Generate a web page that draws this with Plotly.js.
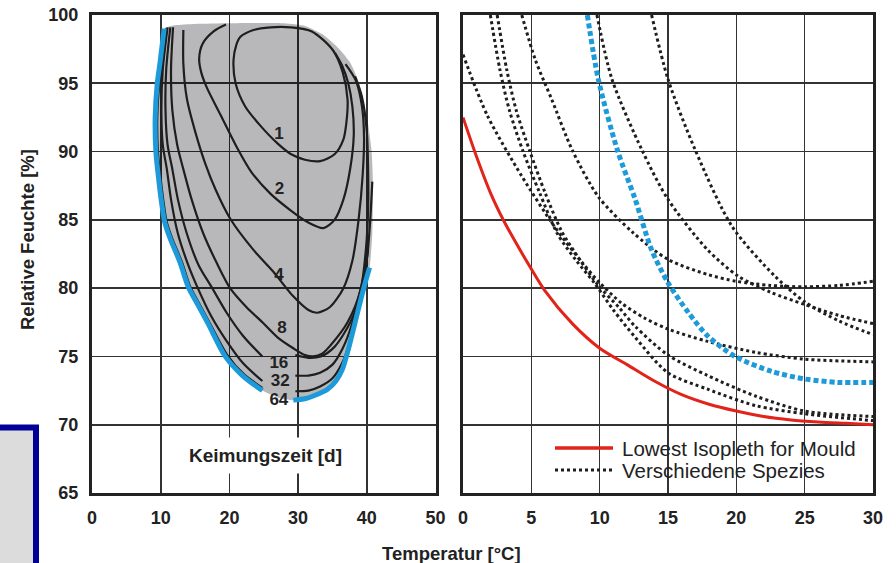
<!DOCTYPE html>
<html><head><meta charset="utf-8">
<script src="https://cdn.plot.ly/plotly-3.0.1.min.js"></script>
<style>html,body{margin:0;padding:0;background:#fff}#chart{width:896px;height:563px}</style>
</head><body><div id="chart"></div>
<script>
// ---------- Left panel: germination isopleths (Keimungszeit in days) ----------
const isoLabels = ['1','2','4','8','16','32','64'];
const labelT  = [27.2, 27.3, 27.2, 27.65, 27.2, 27.4, 27.2];
const labelRH = [91.2, 87.2, 80.9, 77.0, 74.5, 73.15, 71.75];

const iso1T  = [28.9,32.0,35.1,36.5,37.2,37.0,36.6,35.3,33.2,31.0,29.0,27.0,24.5,22.3,20.9,20.6,21.0,21.6,23.5,26.0,28.9];
const iso1RH = [99.1,98.8,97.4,95.8,93.8,92.0,90.9,89.8,89.3,89.4,89.8,90.6,91.9,93.3,95.0,96.7,97.8,98.4,98.9,99.1,99.1];

const iso2T  = [19.5,17.7,16.1,15.6,15.9,16.7,18.7,21.1,23.2,26.0,28.9,31.5,33.7,35.3,36.6,37.6,38.1,37.9,37.3,36.4,35.4];
const iso2RH = [99.3,98.8,97.9,96.8,95.8,94.7,92.7,90.3,88.5,86.9,85.7,84.8,84.4,85.0,86.5,88.8,91.2,93.3,95.0,96.3,97.2];

const iso4T  = [13.3,13.3,13.8,15.0,16.5,18.0,20.1,23.5,26.4,29.3,31.5,32.8,34.6,36.6,37.9,38.8,39.4,39.6,39.3,38.4,36.9];
const iso4RH = [98.9,96.4,93.9,91.5,89.1,87.2,85.1,82.8,81.2,79.4,78.4,78.2,78.6,80.0,82.0,85.0,88.3,91.0,93.3,95.2,96.4];

const iso8T  = [11.8,11.5,11.7,12.4,13.3,14.5,16.2,18.2,20.1,22.5,24.8,27.0,29.3,31.0,32.2,33.5,34.7,37.2,39.1,39.9,40.2,40.2,40.0,39.3,38.3];
const iso8RH = [99.1,96.0,93.0,90.5,88.7,86.5,84.0,81.8,80.0,78.6,77.5,76.4,75.6,75.1,75.0,75.2,75.8,77.5,79.9,83.0,86.0,88.3,91.5,94.0,95.5];

const iso16LT  = [11.4,10.8,10.7,11.0,11.7,12.5,13.8,15.5,17.5,19.6,22.0,24.8];
const iso16LRH = [99.1,96.0,93.0,90.5,88.7,86.5,84.0,81.7,80.0,78.2,76.5,75.0];
const iso16RT  = [29.6,31.5,33.3,35.3,37.6,39.3,40.1,40.5,40.8];
const iso16RRH = [75.1,74.9,75.0,75.7,77.5,79.9,82.5,85.0,87.8];

const iso32LT  = [11.0,10.3,10.1,10.3,10.9,11.5,12.5,14.0,15.4,17.3,19.5,22.0,24.8];
const iso32LRH = [99.1,96.0,93.0,90.5,88.7,86.5,84.0,81.7,80.0,78.0,76.2,74.5,73.2];
const iso32RT  = [29.6,31.5,33.2,35.0,36.5,37.8,38.9,39.7,40.2];
const iso32RRH = [73.6,73.6,73.8,74.4,75.6,77.3,79.5,81.3,82.8];

const iso64LT  = [10.8,10.2,9.8,9.5,9.6,10.0,10.5,10.9,11.7,13.1,14.3,15.8,17.2,19.7,22.1,24.8];
const iso64LRH = [99.0,96.5,95.0,92.5,90.0,88.0,86.0,84.8,83.6,81.9,80.1,78.7,77.4,75.1,73.7,72.7];
const iso64RT  = [29.6,31.5,33.2,35.0,36.4,37.5,38.5,39.4,40.0];
const iso64RRH = [72.45,72.5,72.8,73.4,74.5,76.0,78.0,80.3,82.0];

// blue outermost boundary (two pieces)
const blueLT  = [10.5,9.9,9.5,9.2,9.3,9.7,10.2,10.6,11.4,12.8,14.0,15.5,16.9,19.4,21.9,24.8];
const blueLRH = [99.0,96.5,95.0,92.5,90.0,88.0,86.0,84.8,83.6,81.9,80.1,78.7,77.4,75.0,73.6,72.5];
const blueRT  = [29.3,31.0,32.2,34.3,35.5,36.4,37.3,38.3,39.5,40.4];
const blueRRH = [71.8,71.9,72.1,72.6,73.2,74.0,75.5,77.5,79.9,81.5];

// grey germination region outline
const regionT  = [10.5,9.9,9.5,9.2,9.3,9.7,10.2,10.6,11.4,12.8,14.0,15.5,16.9,19.4,21.9,24.8,27.0,29.3,31.0,32.2,34.3,35.5,36.4,37.3,38.3,39.5,40.4,40.8,40.9,40.7,40.2,39.6,38.8,37.6,35.8,33.5,31.0,28.0,20.0,15.0,12.0,10.5];
const regionRH = [99.0,96.5,95.0,92.5,90.0,88.0,86.0,84.8,83.6,81.9,80.1,78.7,77.4,75.0,73.6,72.5,72.0,71.8,71.9,72.1,72.6,73.2,74.0,75.5,77.5,79.9,81.5,84.0,87.5,90.0,92.0,93.5,95.1,96.5,97.6,98.6,99.2,99.4,99.4,99.35,99.25,99.0];

// ---------- Right panel: lowest isopleth + species ----------
const mouldT  = [0,1,2,3,4,5,6,8,10,12,14,16,18,20,22,24,26,28,30];
const mouldRH = [92.5,89.6,87.0,84.9,83.1,81.4,79.8,77.4,75.6,74.4,73.2,72.2,71.5,71.0,70.6,70.35,70.2,70.1,70.0];

const spA_T  = [0,1.8,4.3,6.7,8.7,10,11.6,13.3,15,17.9,21.4,25,30];
const spA_RH = [97.1,92.6,88.2,84.5,81.9,80.4,78.9,77.8,77.0,76.1,75.3,74.8,74.6];
const spB_T  = [2.0,2.7,3.4,4.4,5.6,6.9,8.3,9.6,11.0,12.6,15.0,17.9,21.4,25,30];
const spB_RH = [100,96,93,90,87,84,82,80.4,78.4,76.4,73.8,72.6,71.4,70.8,70.3];
const spC_T  = [2.5,3.2,3.9,4.9,6.0,7.2,8.6,9.9,11.4,12.6,15.0,17.9,21.4,25,30];
const spC_RH = [100,96,93,90,87,84.2,82,80.2,78.6,77.2,75.1,73.6,72.1,71.0,70.6];
const spD_T  = [4.3,5.3,6.5,8.0,9.9,12.4,15.0,17.9,20,22.5,25,27.5,30];
const spD_RH = [100,96.7,93.8,90.1,86.7,84.1,82.1,81.0,80.5,80.2,80.1,80.2,80.5];
const spE_T  = [9.8,10.9,13.1,15.0,17.9,20.1,22.5,25,27.5,30];
const spE_RH = [100,95.3,90.1,86.5,82.8,80.9,79.7,78.8,78.0,77.4];
const spF_T  = [13.8,15.0,17.0,19.7,22.8,25,27.5,30];
const spF_RH = [100,95.3,90.1,84.5,80.9,79.0,77.6,76.6];
const spBlueT  = [9.1,9.9,11.3,12.6,13.8,15.0,16.5,17.9,19.9,22.6,25,27.4,30];
const spBlueRH = [100,95.3,90.1,86.5,82.8,80.4,78.2,76.5,75.0,73.9,73.35,73.1,73.1];

// ---------- text ----------
const legendNames = ['Lowest Isopleth for Mould','Verschiedene Spezies'];
const yTitle = 'Relative Feuchte [%]';
const xTitle = 'Temperatur [°C]';
const panelNote = 'Keimungszeit [d]';

// ---------- build ----------
const W = 896, H = 563;
const px = v => v / W, py = v => (H - v) / H;
const FONT = '"Liberation Sans", Arial, sans-serif';
const INK = '#222';
const BLUE = '#1c9ad9';
const RED = '#e2231a';

const traces = [];
traces.push({x: regionT, y: regionRH, xaxis: 'x', yaxis: 'y', mode: 'lines', fill: 'toself',
  fillcolor: 'rgba(0,0,8,0.28)', line: {width: 0, shape: 'spline', smoothing: 0.6},
  hoverinfo: 'skip', showlegend: false});

const blackIso = [[iso1T,iso1RH],[iso2T,iso2RH],[iso4T,iso4RH],[iso8T,iso8RH],
  [iso16LT,iso16LRH],[iso16RT,iso16RRH],[iso32LT,iso32LRH],[iso32RT,iso32RRH],
  [iso64LT,iso64LRH],[iso64RT,iso64RRH]];
blackIso.forEach(c => traces.push({x: c[0], y: c[1], xaxis: 'x', yaxis: 'y', mode: 'lines',
  line: {color: '#1e1e1e', width: 2.2, shape: 'spline', smoothing: 0.8}, hoverinfo: 'skip', showlegend: false}));

[[blueLT,blueLRH],[blueRT,blueRRH]].forEach(c => traces.push({x: c[0], y: c[1], xaxis: 'x', yaxis: 'y', mode: 'lines',
  line: {color: BLUE, width: 5, shape: 'spline', smoothing: 0.8}, hoverinfo: 'skip', showlegend: false}));

traces.push({x: labelT, y: labelRH, xaxis: 'x', yaxis: 'y', mode: 'text', text: isoLabels,
  textposition: 'middle center', textfont: {family: FONT, size: 17, color: INK, weight: 'bold'},
  hoverinfo: 'skip', showlegend: false});

// right panel
[[spA_T,spA_RH],[spB_T,spB_RH],[spC_T,spC_RH],[spD_T,spD_RH],[spE_T,spE_RH],[spF_T,spF_RH]].forEach(c =>
  traces.push({x: c[0], y: c[1], xaxis: 'x2', yaxis: 'y2', mode: 'lines',
    line: {color: '#1e1e1e', width: 3, dash: 'dot', shape: 'spline', smoothing: 0.8}, hoverinfo: 'skip', showlegend: false}));
traces.push({x: spBlueT, y: spBlueRH, xaxis: 'x2', yaxis: 'y2', mode: 'lines',
  line: {color: BLUE, width: 5, dash: '5px,3px', shape: 'spline', smoothing: 0.8}, hoverinfo: 'skip', showlegend: false});
traces.push({x: mouldT, y: mouldRH, xaxis: 'x2', yaxis: 'y2', mode: 'lines', name: legendNames[0],
  line: {color: RED, width: 3, shape: 'spline', smoothing: 0.8}, hoverinfo: 'skip', showlegend: false});

const axBase = {showgrid: true, gridcolor: '#333', gridwidth: 1.6, showline: true, mirror: true,
  linecolor: '#222', linewidth: 3, ticks: '', zeroline: false, fixedrange: true,
  tickfont: {family: FONT, size: 18, color: INK, weight: 'bold'}};
const yDom = [(H - 493) / H, (H - 15) / H];

const layout = {
  width: W, height: H, margin: {l: 0, r: 0, t: 0, b: 0}, paper_bgcolor: '#fff', plot_bgcolor: '#fff',
  showlegend: false,
  xaxis:  Object.assign({}, axBase, {domain: [px(92), px(435.5)], range: [0, 50], tick0: 0, dtick: 10, anchor: 'y', ticklabelstandoff: 6}),
  yaxis:  Object.assign({}, axBase, {domain: yDom, range: [65, 100], tick0: 65, dtick: 5, anchor: 'x', ticklabelstandoff: 7}),
  xaxis2: Object.assign({}, axBase, {domain: [px(463), px(873)], range: [0, 30], tick0: 0, dtick: 5, anchor: 'y2', ticklabelstandoff: 6}),
  yaxis2: Object.assign({}, axBase, {domain: yDom, range: [65, 100], tick0: 65, dtick: 5, anchor: 'x2', showticklabels: false}),
  shapes: [
    {type: 'rect', xref: 'paper', yref: 'paper', x0: px(548), x1: px(870), y0: py(481), y1: py(434),
     fillcolor: '#fff', line: {width: 0}, layer: 'between'},
    {type: 'line', xref: 'paper', yref: 'paper', x0: px(555), x1: px(613), y0: py(448), y1: py(448),
     line: {color: RED, width: 3.5}},
    {type: 'line', xref: 'paper', yref: 'paper', x0: px(555), x1: px(613), y0: py(470), y1: py(470),
     line: {color: '#1e1e1e', width: 3, dash: 'dot'}},
    {type: 'rect', xref: 'paper', yref: 'paper', x0: px(-20), x1: px(36), y0: py(640), y1: py(427.5),
     fillcolor: '#dcdcdc', line: {color: '#000099', width: 6}}
  ],
  annotations: [
    {xref: 'x', yref: 'y', x: 25.2, y: 67.74, text: panelNote, showarrow: false, bgcolor: '#fff', borderpad: 7,
     font: {family: FONT, size: 19, color: INK, weight: 'bold'}},
    {xref: 'paper', yref: 'paper', x: px(620), y: py(448), xanchor: 'left', yanchor: 'middle', text: legendNames[0],
     showarrow: false, font: {family: FONT, size: 20.5, color: INK}},
    {xref: 'paper', yref: 'paper', x: px(620), y: py(470), xanchor: 'left', yanchor: 'middle', text: legendNames[1],
     showarrow: false, font: {family: FONT, size: 20.5, color: INK}},
    {xref: 'paper', yref: 'paper', x: px(27), y: py(240), text: yTitle, textangle: -90, showarrow: false,
     xanchor: 'center', yanchor: 'middle', font: {family: FONT, size: 18.5, color: INK, weight: 'bold'}},
    {xref: 'paper', yref: 'paper', x: px(451), y: py(553), text: xTitle, showarrow: false,
     xanchor: 'center', yanchor: 'middle', font: {family: FONT, size: 18.5, color: INK, weight: 'bold'}}
  ]
};

Plotly.newPlot('chart', traces, layout, {staticPlot: true, displayModeBar: false});
</script>
</body></html>
